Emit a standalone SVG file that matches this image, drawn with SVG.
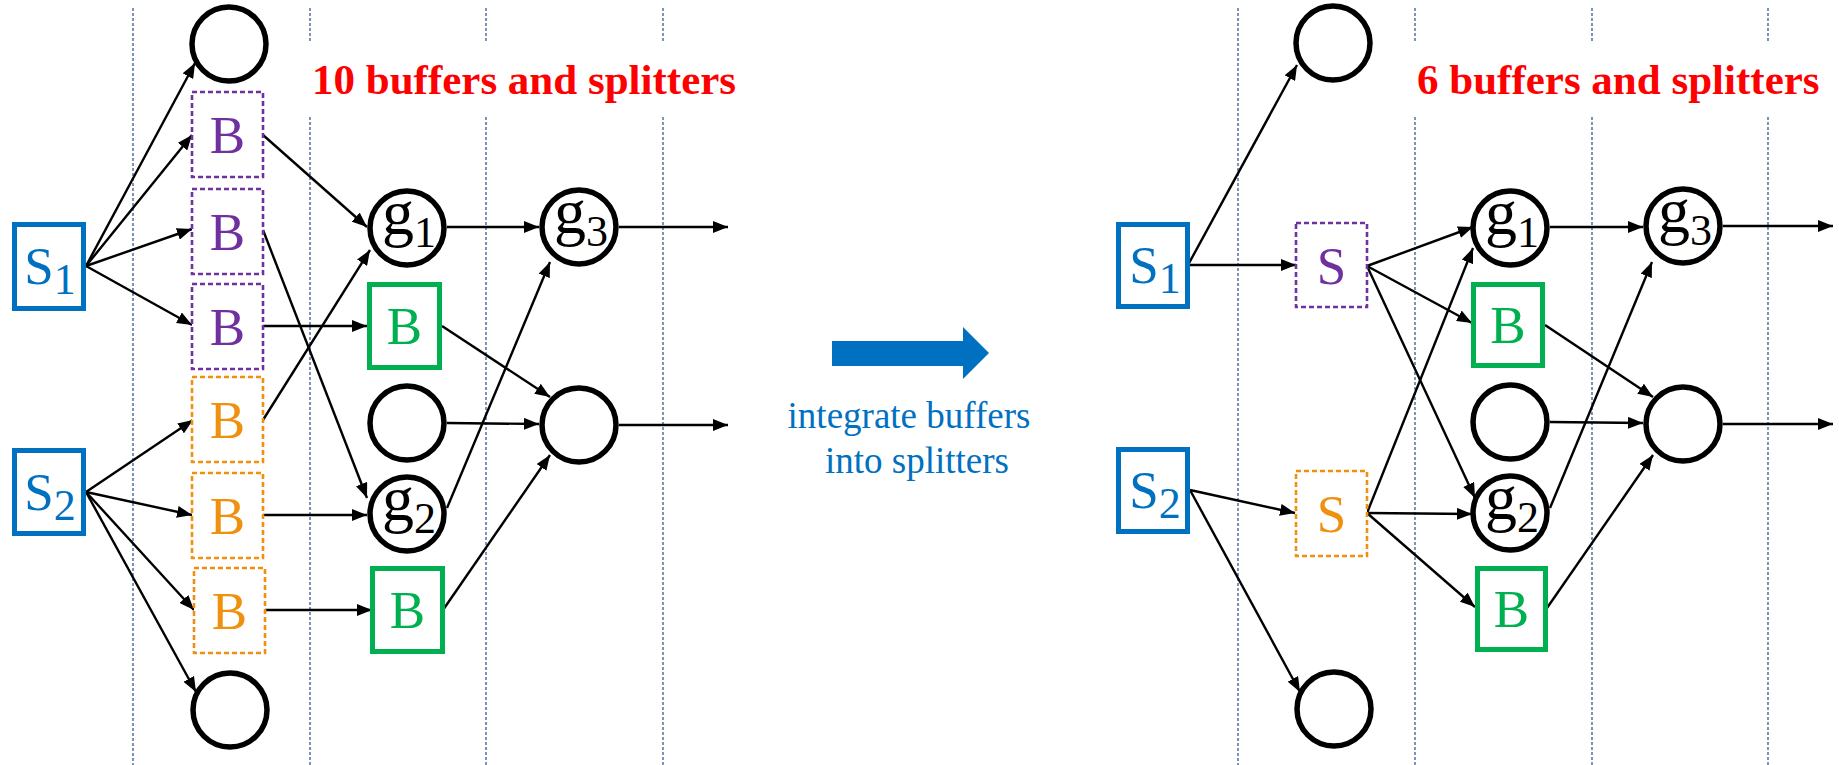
<svg xmlns="http://www.w3.org/2000/svg" width="1839" height="765" viewBox="0 0 1839 765">
  <style>
    .lane { stroke: #3B5A8C; stroke-width: 1.3; stroke-dasharray: 3 2; fill: none; }
    .edge { stroke: #000; stroke-width: 2.4; fill: none; marker-end: url(#arrow); }
    .gate { fill: #fff; stroke: #000; stroke-width: 5.5; }
    .src { fill: #fff; stroke: #0070C0; stroke-width: 5; }
    .buf { fill: #fff; stroke: #00B050; stroke-width: 5; }
    .dp { fill: #fff; stroke: #7030A0; stroke-width: 2.6; stroke-dasharray: 5 3; }
    .do { fill: #fff; stroke: #F0900F; stroke-width: 2.6; stroke-dasharray: 5 3; }
    .lbl { font-family: "Liberation Serif", "Times New Roman", serif; font-size: 53px; text-anchor: middle; }
    .glbl { font-family: "Liberation Serif", "Times New Roman", serif; font-size: 64px; text-anchor: middle; fill: #000; }
    .sub { font-size: 44px; }
    .title { font-family: "Liberation Serif", "Times New Roman", serif; font-size: 43px; font-weight: bold; fill: #FF0000; }
    .note { font-family: "Liberation Serif", "Times New Roman", serif; font-size: 37px; fill: #0070C0; text-anchor: middle; }
  </style>
  <defs>
    <marker id="arrow" markerUnits="userSpaceOnUse" markerWidth="15" markerHeight="12" refX="15" refY="6" orient="auto">
      <path d="M0,0 L15,6 L0,12 z" fill="#000"/>
    </marker>
  </defs>
  <rect width="1839" height="765" fill="#fff"/>

  <!-- stage separators -->
  <g id="lanes">
    <line class="lane" x1="133" y1="8" x2="133" y2="765"/>
    <line class="lane" x1="310" y1="8" x2="310" y2="43"/>
    <line class="lane" x1="310" y1="117" x2="310" y2="765"/>
    <line class="lane" x1="486" y1="8" x2="486" y2="43"/>
    <line class="lane" x1="486" y1="117" x2="486" y2="765"/>
    <line class="lane" x1="663" y1="8" x2="663" y2="43"/>
    <line class="lane" x1="663" y1="117" x2="663" y2="765"/>
    <line class="lane" x1="1238" y1="8" x2="1238" y2="765"/>
    <line class="lane" x1="1415" y1="8" x2="1415" y2="43"/>
    <line class="lane" x1="1415" y1="117" x2="1415" y2="765"/>
    <line class="lane" x1="1592" y1="8" x2="1592" y2="43"/>
    <line class="lane" x1="1592" y1="117" x2="1592" y2="765"/>
    <line class="lane" x1="1768" y1="8" x2="1768" y2="43"/>
    <line class="lane" x1="1768" y1="117" x2="1768" y2="765"/>
  </g>

  <!-- connectors -->
  <g id="connectors">
    <!-- left network -->
    <line class="edge" x1="86" y1="266" x2="195" y2="63"/>
    <line class="edge" x1="86" y1="266" x2="192" y2="135"/>
    <line class="edge" x1="86" y1="266" x2="192" y2="229"/>
    <line class="edge" x1="86" y1="266" x2="192" y2="325"/>
    <line class="edge" x1="86" y1="492" x2="193" y2="420"/>
    <line class="edge" x1="86" y1="492" x2="192" y2="515"/>
    <line class="edge" x1="86" y1="492" x2="194" y2="610"/>
    <line class="edge" x1="86" y1="492" x2="196" y2="692"/>
    <line class="edge" x1="263" y1="135" x2="367" y2="227"/>
    <line class="edge" x1="263" y1="230" x2="367" y2="498"/>
    <line class="edge" x1="263" y1="326" x2="367" y2="326"/>
    <line class="edge" x1="263" y1="420" x2="370" y2="250"/>
    <line class="edge" x1="263" y1="515" x2="367" y2="515"/>
    <line class="edge" x1="265" y1="610" x2="372" y2="610"/>
    <line class="edge" x1="447" y1="227" x2="539" y2="227"/>
    <line class="edge" x1="442" y1="326" x2="550" y2="397"/>
    <line class="edge" x1="447" y1="423" x2="539" y2="424"/>
    <line class="edge" x1="447" y1="508" x2="550" y2="262"/>
    <line class="edge" x1="443" y1="610" x2="550" y2="455"/>
    <line class="edge" x1="619" y1="227" x2="728" y2="227"/>
    <line class="edge" x1="619" y1="425" x2="728" y2="425"/>
    <!-- right network -->
    <line class="edge" x1="1188" y1="265" x2="1297" y2="65"/>
    <line class="edge" x1="1190" y1="265" x2="1296" y2="265"/>
    <line class="edge" x1="1367" y1="266" x2="1473" y2="227"/>
    <line class="edge" x1="1367" y1="266" x2="1472" y2="323"/>
    <line class="edge" x1="1367" y1="266" x2="1475" y2="498"/>
    <line class="edge" x1="1367" y1="513" x2="1473" y2="248"/>
    <line class="edge" x1="1190" y1="490" x2="1295" y2="513"/>
    <line class="edge" x1="1190" y1="490" x2="1300" y2="692"/>
    <line class="edge" x1="1367" y1="513" x2="1472" y2="514"/>
    <line class="edge" x1="1367" y1="513" x2="1475" y2="607"/>
    <line class="edge" x1="1550" y1="227" x2="1643" y2="227"/>
    <line class="edge" x1="1545" y1="325" x2="1653" y2="397"/>
    <line class="edge" x1="1550" y1="422" x2="1643" y2="423"/>
    <line class="edge" x1="1550" y1="508" x2="1652" y2="262"/>
    <line class="edge" x1="1547" y1="608" x2="1653" y2="455"/>
    <line class="edge" x1="1723" y1="226" x2="1833" y2="226"/>
    <line class="edge" x1="1723" y1="424" x2="1833" y2="424"/>
  </g>

  <!-- left network nodes -->
  <g id="L-top"><circle class="gate" cx="229" cy="44" r="37"/></g>
  <g id="L-S1"><rect class="src" x="14.5" y="224.5" width="69" height="84"/>
    <text class="lbl" x="50" y="284" fill="#0070C0">S<tspan class="sub" dy="10">1</tspan></text></g>
  <g id="L-S2"><rect class="src" x="14.5" y="450.5" width="69" height="83"/>
    <text class="lbl" x="50" y="510" fill="#0070C0">S<tspan class="sub" dy="10">2</tspan></text></g>
  <g id="L-B1"><rect class="dp" x="192" y="92" width="71" height="85"/><text class="lbl" x="227.5" y="153" fill="#7030A0">B</text></g>
  <g id="L-B2"><rect class="dp" x="192" y="189" width="71" height="85"/><text class="lbl" x="227.5" y="250" fill="#7030A0">B</text></g>
  <g id="L-B3"><rect class="dp" x="192" y="284" width="71" height="85"/><text class="lbl" x="227.5" y="345" fill="#7030A0">B</text></g>
  <g id="L-B4"><rect class="do" x="192" y="377" width="71" height="85"/><text class="lbl" x="227.5" y="438" fill="#F0900F">B</text></g>
  <g id="L-B5"><rect class="do" x="192" y="473" width="71" height="85"/><text class="lbl" x="227.5" y="534" fill="#F0900F">B</text></g>
  <g id="L-B6"><rect class="do" x="194" y="568" width="71" height="85"/><text class="lbl" x="229.5" y="629" fill="#F0900F">B</text></g>
  <g id="L-bottom"><circle class="gate" cx="230" cy="710" r="37"/></g>
  <g id="L-g1"><circle class="gate" cx="407" cy="228" r="37"/>
    <text class="glbl" x="409" y="234">g<tspan class="sub" dy="13">1</tspan></text></g>
  <g id="L-G1"><rect class="buf" x="369.5" y="284.5" width="70" height="83"/><text class="lbl" x="404.5" y="344" fill="#00B050">B</text></g>
  <g id="L-empty"><circle class="gate" cx="407" cy="423" r="37"/></g>
  <g id="L-g2"><circle class="gate" cx="407" cy="514" r="37"/>
    <text class="glbl" x="409" y="520">g<tspan class="sub" dy="13">2</tspan></text></g>
  <g id="L-G2"><rect class="buf" x="372.5" y="568.5" width="70" height="83"/><text class="lbl" x="407.5" y="628" fill="#00B050">B</text></g>
  <g id="L-g3"><circle class="gate" cx="579" cy="227" r="37"/>
    <text class="glbl" x="581" y="233">g<tspan class="sub" dy="13">3</tspan></text></g>
  <g id="L-out"><circle class="gate" cx="579" cy="425" r="37"/></g>
  <text class="title" x="312" y="94">10 buffers and splitters</text>

  <!-- transformation arrow -->
  <g id="transform">
    <polygon points="832,341 963,341 963,327 989,353 963,379 963,366 832,366" fill="#0070C0"/>
    <text class="note" x="909" y="428">integrate buffers</text>
    <text class="note" x="917" y="473">into splitters</text>
  </g>

  <!-- right network nodes -->
  <g id="R-top"><circle class="gate" cx="1333" cy="43" r="37"/></g>
  <g id="R-S1"><rect class="src" x="1118.5" y="224.5" width="69" height="82"/>
    <text class="lbl" x="1155" y="283" fill="#0070C0">S<tspan class="sub" dy="10">1</tspan></text></g>
  <g id="R-S2"><rect class="src" x="1118.5" y="449.5" width="69" height="82"/>
    <text class="lbl" x="1155" y="508" fill="#0070C0">S<tspan class="sub" dy="10">2</tspan></text></g>
  <g id="R-Sp"><rect class="dp" x="1296" y="223" width="71" height="84"/><text class="lbl" x="1331.5" y="284" fill="#7030A0">S</text></g>
  <g id="R-So"><rect class="do" x="1296" y="471" width="71" height="85"/><text class="lbl" x="1331.5" y="532" fill="#F0900F">S</text></g>
  <g id="R-bottom"><circle class="gate" cx="1334" cy="709" r="37"/></g>
  <g id="R-g1"><circle class="gate" cx="1510" cy="228" r="37"/>
    <text class="glbl" x="1512" y="234">g<tspan class="sub" dy="13">1</tspan></text></g>
  <g id="R-G1"><rect class="buf" x="1473.5" y="284.5" width="69" height="81"/><text class="lbl" x="1508" y="343" fill="#00B050">B</text></g>
  <g id="R-empty"><circle class="gate" cx="1510" cy="422" r="37"/></g>
  <g id="R-g2"><circle class="gate" cx="1510" cy="513" r="37"/>
    <text class="glbl" x="1512" y="519">g<tspan class="sub" dy="13">2</tspan></text></g>
  <g id="R-G2"><rect class="buf" x="1477.5" y="568.5" width="68" height="81"/><text class="lbl" x="1511.5" y="627" fill="#00B050">B</text></g>
  <g id="R-g3"><circle class="gate" cx="1683" cy="226" r="37"/>
    <text class="glbl" x="1685" y="232">g<tspan class="sub" dy="13">3</tspan></text></g>
  <g id="R-out"><circle class="gate" cx="1683" cy="424" r="37"/></g>
  <text class="title" x="1417" y="94">6 buffers and splitters</text>
</svg>
